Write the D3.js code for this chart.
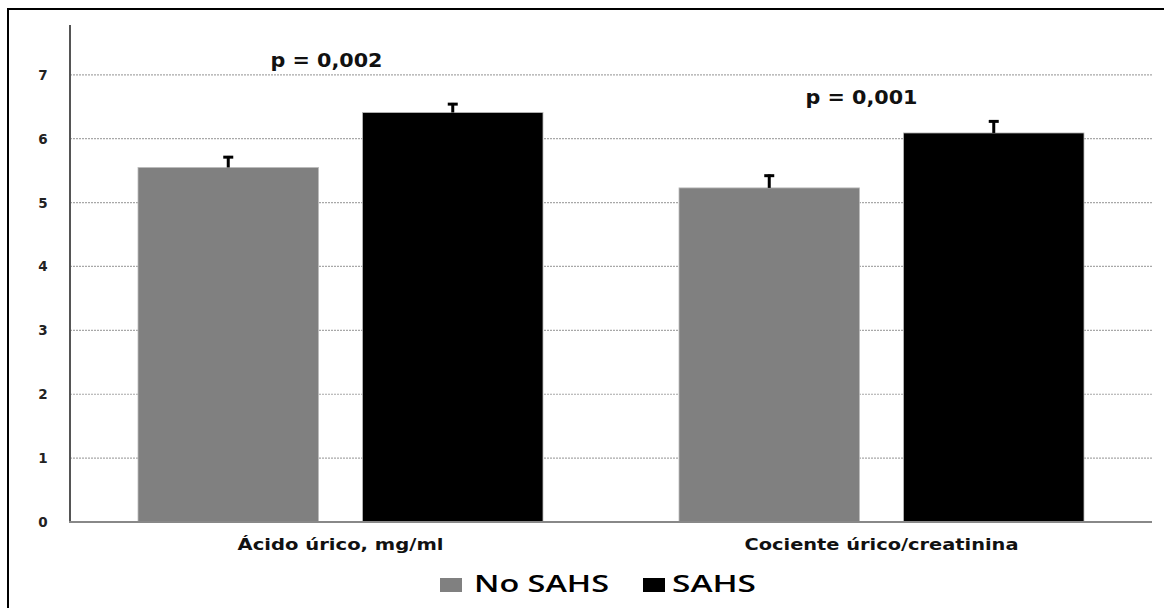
<!DOCTYPE html>
<html>
<head>
<meta charset="utf-8">
<script src="https://cdn.jsdelivr.net/npm/d3@7"></script>
<style>
  html, body { margin: 0; padding: 0; background: #fff; }
  svg { display: block; }
</style>
</head>
<body>
<svg id="chart" width="1164" height="608"></svg>
<script>
// Uric acid measurements by group
const categories = ["Ácido úrico, mg/ml", "Cociente úrico/creatinina"];
const seriesNames = ["No SAHS", "SAHS"];
const noSahsValues = [5.55, 5.23];
const sahsValues = [6.41, 6.09];
const noSahsErrorTop = [5.73, 5.44];
const sahsErrorTop = [6.56, 6.29];
const yTicks = [0, 1, 2, 3, 4, 5, 6, 7];
const pLabels = ["p = 0,002", "p = 0,001"];

const colors = { "No SAHS": "#808080", "SAHS": "#000000" };

const svg = d3.select("#chart");
const W = 1164, H = 608;

// outer frame
svg.append("rect")
  .attr("x", 8).attr("y", 9)
  .attr("width", W + 20).attr("height", H + 20)
  .attr("fill", "#fff").attr("stroke", "#000").attr("stroke-width", 2);

const plot = { left: 70, right: 1152, top: 25, bottom: 522 };

const y = d3.scaleLinear().domain([0, 7.78]).range([plot.bottom, plot.top]);
const x0 = d3.scaleBand().domain(categories)
  .range([plot.left, plot.right]).paddingInner(0.2514).paddingOuter(0.1257);
const x1 = d3.scaleBand().domain(seriesNames)
  .range([0, x0.bandwidth()]).paddingInner(0.196).paddingOuter(0);

const rows = categories.map((c, i) => ({
  cat: c,
  bars: [
    { s: "No SAHS", v: noSahsValues[i], e: noSahsErrorTop[i] },
    { s: "SAHS", v: sahsValues[i], e: sahsErrorTop[i] }
  ]
}));

// gridlines
svg.append("g")
  .selectAll("line").data(yTicks.filter(t => t > 0)).join("line")
  .attr("x1", plot.left).attr("x2", plot.right)
  .attr("y1", d => y(d)).attr("y2", d => y(d))
  .attr("stroke", "#a8a8a8").attr("stroke-width", 1.2)
  .attr("stroke-dasharray", "2,1");

// y axis labels
svg.append("g")
  .selectAll("text").data(yTicks).join("text")
  .attr("x", 43).attr("y", d => y(d) + 5)
  .attr("text-anchor", "middle")
  .attr("font-family", "DejaVu Sans, Verdana, sans-serif")
  .attr("font-weight", "bold").attr("font-size", 13.5)
  .attr("fill", "#222")
  .text(d => d);

// bars
const groups = svg.append("g").selectAll("g").data(rows).join("g")
  .attr("transform", d => `translate(${x0(d.cat)},0)`);

groups.selectAll("rect").data(d => d.bars).join("rect")
  .attr("x", d => x1(d.s)).attr("width", x1.bandwidth())
  .attr("y", d => y(d.v)).attr("height", d => y(0) - y(d.v))
  .attr("fill", d => colors[d.s])
  .attr("stroke", "#bbb").attr("stroke-width", 0.8);

// error bars
const eb = groups.selectAll("g.err").data(d => d.bars).join("g").attr("class", "err");
eb.append("line")
  .attr("x1", d => x1(d.s) + x1.bandwidth() / 2)
  .attr("x2", d => x1(d.s) + x1.bandwidth() / 2)
  .attr("y1", d => y(d.v)).attr("y2", d => y(d.e))
  .attr("stroke", "#000").attr("stroke-width", 3);
eb.append("line")
  .attr("x1", d => x1(d.s) + x1.bandwidth() / 2 - 5)
  .attr("x2", d => x1(d.s) + x1.bandwidth() / 2 + 5)
  .attr("y1", d => y(d.e) + 1.2).attr("y2", d => y(d.e) + 1.2)
  .attr("stroke", "#000").attr("stroke-width", 3);

// axes lines
svg.append("line")
  .attr("x1", plot.left).attr("x2", plot.left)
  .attr("y1", plot.top).attr("y2", plot.bottom + 1)
  .attr("stroke", "#555").attr("stroke-width", 2);
svg.append("line")
  .attr("x1", plot.left - 1).attr("x2", plot.right)
  .attr("y1", plot.bottom).attr("y2", plot.bottom)
  .attr("stroke", "#888").attr("stroke-width", 2);

// category labels
const catWidths = [206, 274];
svg.append("g").selectAll("text").data(categories).join("text")
  .attr("x", d => x0(d) + x0.bandwidth() / 2)
  .attr("y", 550)
  .attr("text-anchor", "middle")
  .attr("font-family", "DejaVu Sans, Verdana, sans-serif")
  .attr("font-weight", "bold").attr("font-size", 15)
  .attr("fill", "#111")
  .attr("textLength", (d, i) => catWidths[i])
  .attr("lengthAdjust", "spacingAndGlyphs")
  .text(d => d);

// significance labels
const pPos = [{ dx: -14, v: 7.13 }, { dx: -20, v: 6.55 }];
svg.append("g").selectAll("text").data(pLabels).join("text")
  .attr("x", (d, i) => x0(categories[i]) + x0.bandwidth() / 2 + pPos[i].dx)
  .attr("y", (d, i) => y(pPos[i].v))
  .attr("text-anchor", "middle")
  .attr("font-family", "DejaVu Sans, Verdana, sans-serif")
  .attr("font-weight", "bold").attr("font-size", 19)
  .attr("fill", "#111")
  .attr("textLength", 112)
  .attr("lengthAdjust", "spacingAndGlyphs")
  .text(d => d);

// legend
const legendItems = [
  { s: "No SAHS", sx: 440, tx: 474, tw: 135 },
  { s: "SAHS", sx: 643, tx: 672, tw: 84 }
];
const lg = svg.append("g").selectAll("g").data(legendItems).join("g");
lg.append("rect")
  .attr("x", d => d.sx).attr("y", 578)
  .attr("width", 22).attr("height", 14)
  .attr("fill", d => colors[d.s]);
lg.append("text")
  .attr("x", d => d.tx).attr("y", 592)
  .attr("font-family", "'Open Sans', 'DejaVu Sans', sans-serif")
  .attr("font-weight", 600)
  .attr("font-size", 24)
  .attr("fill", "#000")
  .attr("textLength", d => d.tw)
  .attr("lengthAdjust", "spacingAndGlyphs")
  .text(d => d.s);
</script>
</body>
</html>
